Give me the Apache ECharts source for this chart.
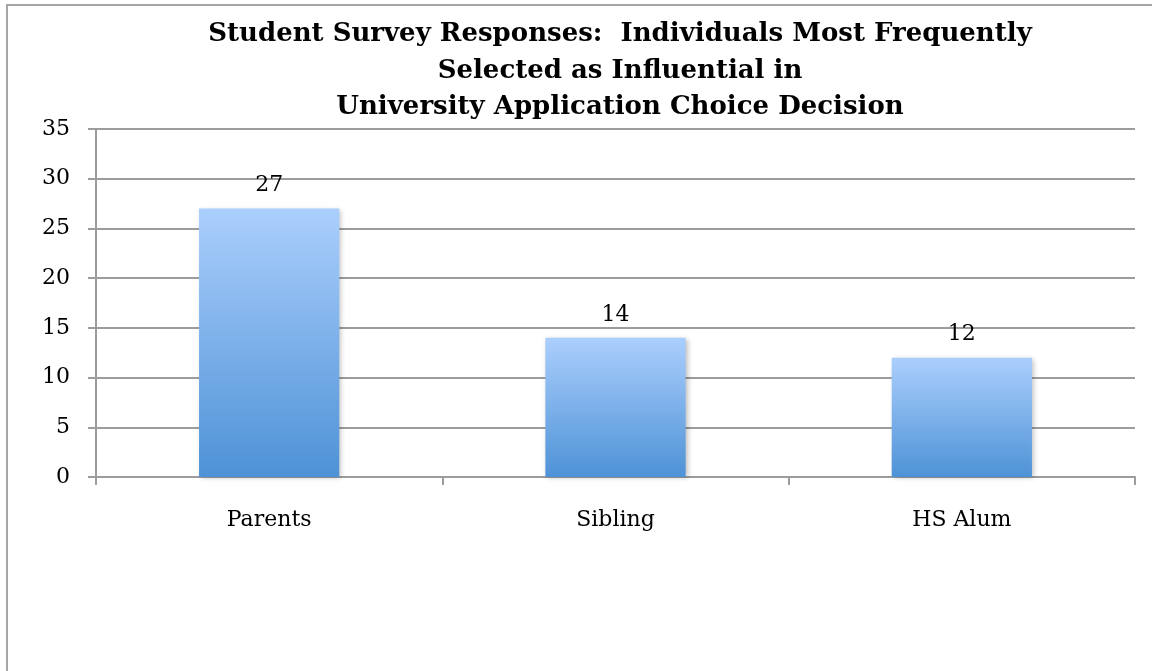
<!DOCTYPE html>
<html>
<head>
<meta charset="utf-8">
<script src="https://cdn.jsdelivr.net/npm/echarts@6/dist/echarts.min.js"></script>
<style>
  html, body { margin: 0; padding: 0; background: #fff; }
  #chart { width: 1152px; height: 671px; }
</style>
</head>
<body>
<div id="chart"></div>
<script>
// Survey data
const categories = ['Parents', 'Sibling', 'HS Alum'];
const responses = [27, 14, 12];
const titleLines = [
  'Student Survey Responses:  Individuals Most Frequently',
  'Selected as Influential in',
  'University Application Choice Decision'
];

const serif = '"DejaVu Serif", "Liberation Serif", serif';
const chart = echarts.init(document.getElementById('chart'));

chart.setOption({
  backgroundColor: '#ffffff',
  animation: false,
  title: {
    text: titleLines.join('\n'),
    left: 615,
    top: 11,
    textAlign: 'center',
    textStyle: {
      fontFamily: serif,
      fontWeight: 'bold',
      fontSize: 26,
      lineHeight: 36.5,
      color: '#000'
    }
  },
  graphic: [{
    type: 'rect',
    shape: { x: 7, y: 5, width: 1160, height: 700 },
    style: { fill: 'none', stroke: '#a6a6a6', lineWidth: 2 },
    silent: true,
    z: -1
  }],
  grid: { left: 96, right: 17, top: 129, bottom: 194 },
  xAxis: {
    type: 'category',
    data: categories,
    axisLine: { lineStyle: { color: '#9c9c9c', width: 2 } },
    axisTick: { show: true, length: 8, lineStyle: { color: '#9c9c9c', width: 2 } },
    axisLabel: { fontFamily: serif, fontSize: 22, color: '#000', margin: 32 }
  },
  yAxis: {
    type: 'value',
    min: 0,
    max: 35,
    interval: 5,
    axisLine: { show: true, lineStyle: { color: '#9c9c9c', width: 2 } },
    axisTick: { show: true, length: 8, lineStyle: { color: '#9c9c9c', width: 2 } },
    splitLine: { lineStyle: { color: '#9c9c9c', width: 2 } },
    axisLabel: { fontFamily: serif, fontSize: 22, color: '#000', margin: 26 }
  },
  series: [{
    type: 'bar',
    data: responses,
    barWidth: '40.5%',
    itemStyle: {
      color: new echarts.graphic.LinearGradient(0, 0, 0, 1, [
        { offset: 0, color: '#abcffd' },
        { offset: 1, color: '#4e92d6' }
      ]),
      shadowColor: 'rgba(0,0,0,0.25)',
      shadowBlur: 5,
      shadowOffsetX: 2,
      shadowOffsetY: 1
    },
    label: {
      show: true,
      position: 'top',
      distance: 12,
      fontFamily: serif,
      fontSize: 22,
      color: '#000'
    }
  }]
});
</script>
</body>
</html>
